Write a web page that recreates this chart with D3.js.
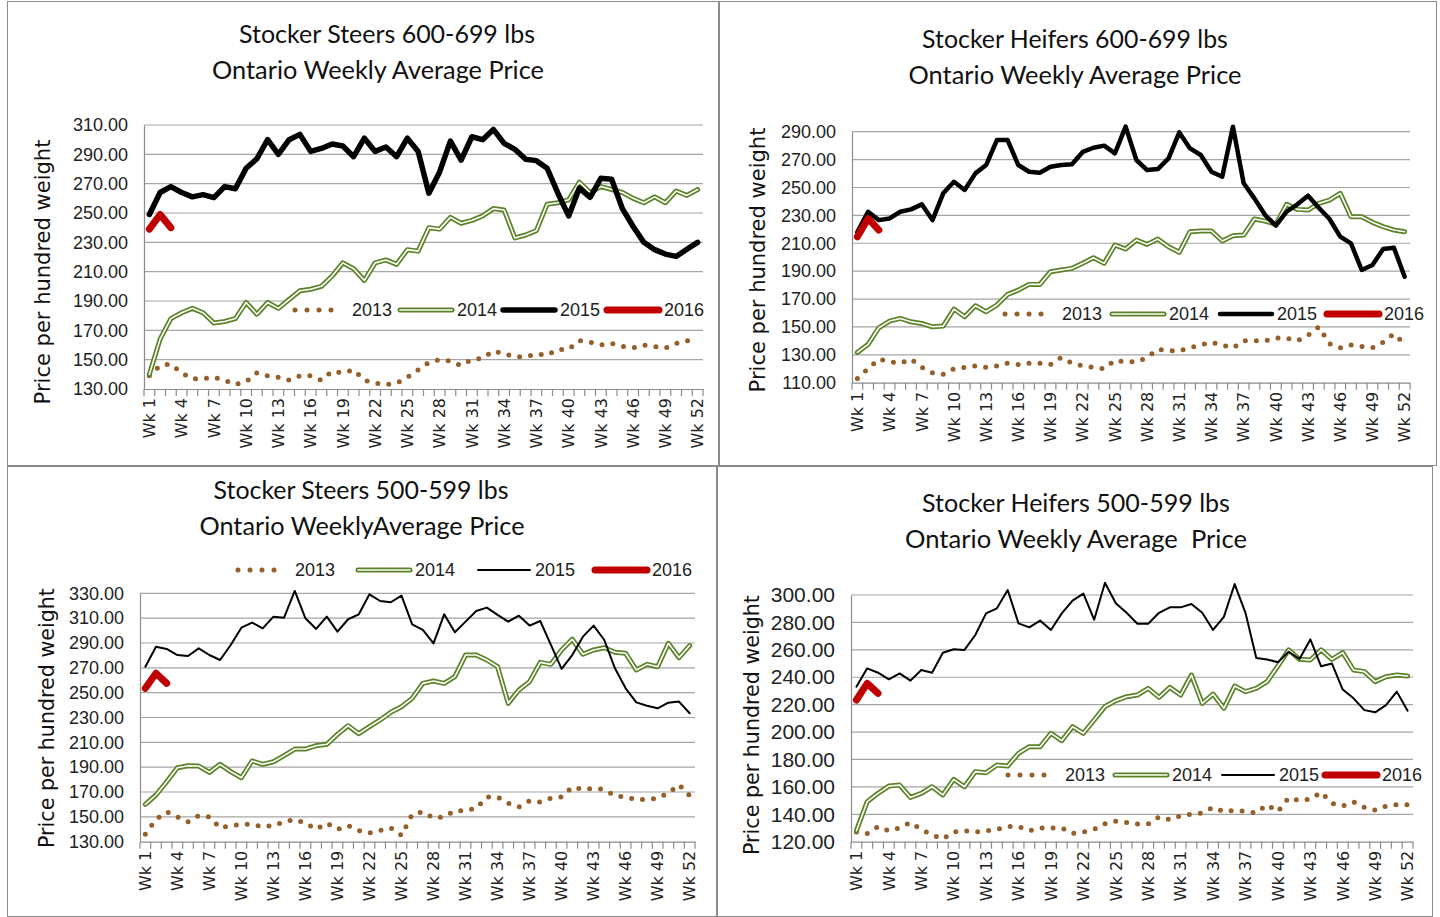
<!DOCTYPE html>
<html><head><meta charset="utf-8">
<script src="https://cdn.jsdelivr.net/npm/d3@7"></script>
<style>body{margin:0;background:#fff}svg{display:block}</style>
</head><body>
<svg id="c" width="1440" height="917"></svg>
<script>
// ---------- DATA ----------
const weeks = d3.range(1, 53).map(i => "Wk " + i);
const weekLabels = weeks.filter((w, i) => i % 3 === 0);
const seriesNames = ["2013", "2014", "2015", "2016"];

// Stocker Steers 600-699 lbs
const steers600_2013 = [139,146,147,141,137,137,138,136,133,135,141,139,138,136,139,139,136,142,141,143,136,134,133,134,138,143,148,150,149,146,150,151,156,154,152,152,154,153,157,157,163,162,160,161,159,158,160,159,158,161,163,160];
const steers600_2014 = [140,164,178,182,185,182,175,176,178,189,181,189,185,191,197,198,200,207,216,212,204,216,218,215,225,224,240,239,247,243,245,248,253,252,233,235,238,256,257,259,271,264,268,266,264,260,257,261,257,265,262,266];
const steers600_2015 = [249,264,268,264,261,262.5,260.5,268,266.5,280.5,287,300,290,300,303.6,292,294,297,295.7,288.4,301,292,295,288.4,301,292,263.5,278,299,286,302,300,307,297.5,293.4,286.6,285.7,280.5,263.5,248,267,260.7,273.7,273,253,240.8,230,225,222,220.4,225.3,230];
const steers600_2016 = [239,249,240];
const steers600Ticks = [130,150,170,190,210,230,250,270,290,310];

// Stocker Heifers 600-699 lbs
const heifers600_2013 = [113,120,127,125,124,127,121,117,116,120,121,122,121,122,124,123,124,124,123,128,124,122,121,120,126,125,125,128,134,133,133,135,137,139,137,135,140,140,140,142,142,140,144,150,138,135,137,136,135,139,145,138];
const heifers600_2014 = [131.7,137.5,149.4,154.2,156.1,153.7,152.5,150.1,150.6,162.8,157.3,165.2,160.9,165.7,173.3,176.4,180.5,180.5,189.6,190.8,192,195.6,199.6,195.6,208.7,205.9,212.3,209.2,213,207.5,203.5,218.3,218.8,218.8,211.6,215.4,215.9,227.4,225.9,223.5,237.9,234.3,233.8,238.6,241,245.8,229,229,225,221.9,219.5,218.3];
const heifers600_2015 = [218,232.6,226.6,227.8,232.6,234.3,237.9,226.6,245.8,254.1,248.2,260.1,266.1,284,284,266.1,261.3,260.6,264.9,266.1,266.6,275.5,278.5,280,274.5,293.6,269.7,262.5,263.2,270.9,289.5,278,273.3,261.3,257.7,293.6,253,242.2,230.2,222.6,232.6,237.9,244.1,235.5,227.4,214.7,209.9,190.8,194.4,205.9,206.8,186];
const heifers600_2016 = [214.7,227.8,219.5];
const heifers600Ticks = [110,130,150,170,190,210,230,250,270,290];

// Stocker Steers 500-599 lbs
const steers500_2013 = [136,148,154,150,146,151,150,141,143,144,144,142,143,146,148,145,140,145,140,143,139,137,139,141,135,152,154,149,150,155,155,157,166,166,161,158,163,162,165,166,174,172,173,172,167,166,164,164,165,169,176,167];
const steers500_2014 = [160.1,167.6,178.3,189.6,191.2,190.9,185.8,192.3,186.4,181.5,195,192.3,194.4,199.3,204.6,204.6,207.3,208.4,216.4,223.4,217,222.6,228,234.2,238.7,245.4,257.5,259.4,257.5,262.9,280.3,280.3,276.3,270.9,241.4,252.1,258.9,274.4,272.8,284.4,293,280.9,284.4,286.2,282.5,281.7,268.3,272.8,270.9,289.7,278.2,287.9];
const steers500_2015 = [270.9,287,285.2,280.3,279.5,285.7,280.3,276.3,288.4,302.3,306.4,301.8,311.2,310.4,331.9,309.9,301.3,311.2,299.1,309.1,313.1,329.2,323.8,322.8,328.1,305,300.5,289.7,313.1,298.6,307.2,315.8,318.5,312.6,307.2,312,304,307.7,288.4,269.1,280.3,295.1,304,292.4,269.6,253.5,242.2,239.5,237.4,241.9,242.8,233.4];
const steers500_2016 = [253.5,265.6,257.5];
const steers500Ticks = [130,150,170,190,210,230,250,270,290,310,330];

// Stocker Heifers 500-599 lbs
const heifers500_2013 = [127,126,131,128,130,134,129,125,122,127,128,127,128,129,131,131,128,130,130,130,126,127,129,133,135,134,133,133,138,136,139,140,141,145,142,143,142,141,147,142,152,150,151,156,148,146,149,145,143,146,147,147];
const heifers500_2014 = [128,149.2,155.3,160.6,161.3,152.3,155.3,160.1,154.1,165.5,160.1,171.1,170.3,175.9,175.2,184.5,189.3,189.3,199.1,193.7,203.9,199.1,208.8,218.6,222.9,225.8,227,231.9,225.3,232.6,227,241.6,220.9,227.7,217.3,233.6,229.5,231.9,236.8,248.2,259.9,253.1,252.6,259.9,253.1,258,245.3,244.1,236.8,240.4,241.6,240.9];
const heifers500_2015 = [233.1,246.5,243.3,238.5,242.8,237.5,245.3,243.3,257.9,260.4,259.9,270.8,286.6,290.3,303.6,279.3,276.4,281.3,274.5,286.6,295.9,301,282,309,294,287,279,279,287,291,291,293.4,287,274.5,284,308,287,254,253,251,258.6,253.3,267.6,248,250,231,224.6,216,214.4,219.7,229.5,215.6];
const heifers500_2016 = [223.4,235.5,228.2];
const heifers500Ticks = [120,140,160,180,200,220,240,260,280,300];

// ---------- LAYOUT / STYLE ----------
const GRID = "#a6a6a6", AXIS = "#8c8c8c", FRAME = "#8c8c8c";
const GREEN = "#5a8227", BROWN = "#955f2a", RED = "#c00000", BLACK = "#000";

const panels = [
  { frame:[7,1,718,465], l:144, r:703, t:125, b:389,
    series:[steers600_2013, steers600_2014, steers600_2015, steers600_2016], ticks:steers600Ticks,
    titles:["Stocker Steers 600-699 lbs","Ontario Weekly Average Price"], tx:[387,378], ty:[33,69], tw:[296,332],
    yt:[42,272,265], blackW:5.5, tickFs:18, legY:310, legX:[295,400,503,607], legBg:[288,297,417,26] },
  { frame:[719,1,1436,465], l:852, r:1410, t:131.7, b:382.7,
    series:[heifers600_2013, heifers600_2014, heifers600_2015, heifers600_2016], ticks:heifers600Ticks,
    titles:["Stocker Heifers 600-699 lbs","Ontario Weekly Average Price"], tx:[1075,1075], ty:[38,74], tw:[306,333],
    yt:[757,260,265], blackW:4.5, tickFs:18, legY:314, legX:[1005,1112,1220,1327], legBg:null },
  { frame:[7,466,716,916], l:140, r:695, t:593.3, b:841.7,
    series:[steers500_2013, steers500_2014, steers500_2015, steers500_2016], ticks:steers500Ticks,
    titles:["Stocker Steers 500-599 lbs","Ontario WeeklyAverage Price"], tx:[361,362], ty:[489,525], tw:[295,325],
    yt:[47,718,260], blackW:2, tickFs:18, legY:570, legX:[238,358,478,595], legBg:null },
  { frame:[717,466,1432,916], l:851, r:1413, t:595, b:841.7,
    series:[heifers500_2013, heifers500_2014, heifers500_2015, heifers500_2016], ticks:heifers500Ticks,
    titles:["Stocker Heifers 500-599 lbs","Ontario Weekly Average\u00A0 Price"], tx:[1076,1076], ty:[502,538], tw:[308,342],
    yt:[752,725,260], blackW:2, tickFs:21, legY:775, legX:[1008,1115,1222,1325], legBg:null }
];

const svg = d3.select("#c");

function fit(sel, target) {
  const n = sel.node();
  const fs = parseFloat(sel.attr("font-size"));
  const len = n.getComputedTextLength();
  if (len > 0) sel.attr("font-size", (fs * target / len).toFixed(2));
}

function drawSeries(g, k, path, blackW) {
  if (k === 0) {
    g.append("path").attr("d", path).attr("fill","none").attr("stroke",BROWN)
      .attr("stroke-width",5).attr("stroke-linecap","round").attr("stroke-dasharray","0 11");
  } else if (k === 1) {
    g.append("path").attr("d", path).attr("fill","none").attr("stroke",GREEN)
      .attr("stroke-width",5).attr("stroke-linejoin","round").attr("stroke-linecap","round");
    g.append("path").attr("d", path).attr("fill","none").attr("stroke","#fff")
      .attr("stroke-width",1.6).attr("stroke-linejoin","round").attr("stroke-linecap","round");
  } else if (k === 2) {
    g.append("path").attr("d", path).attr("fill","none").attr("stroke",BLACK)
      .attr("stroke-width",blackW).attr("stroke-linejoin","round").attr("stroke-linecap","round");
  } else {
    g.append("path").attr("d", path).attr("fill","none").attr("stroke",RED)
      .attr("stroke-width",7).attr("stroke-linejoin","round").attr("stroke-linecap","round");
  }
}

panels.forEach(p => {
  const g = svg.append("g");
  const f = p.frame;
  g.append("rect").attr("x",f[0]+0.5).attr("y",f[1]+0.5).attr("width",f[2]-f[0]).attr("height",f[3]-f[1])
    .attr("fill","none").attr("stroke",FRAME).attr("stroke-width",1);

  const x = d3.scaleBand().domain(weeks).range([p.l, p.r]).padding(0);
  const y = d3.scaleLinear().domain([p.ticks[0], p.ticks[p.ticks.length-1]]).range([p.b, p.t]);
  const cx = w => x(w) + x.bandwidth()/2;

  // gridlines
  g.append("g").selectAll("line").data(p.ticks.slice(1)).join("line")
    .attr("x1",p.l).attr("x2",p.r).attr("y1",d=>y(d)).attr("y2",d=>y(d))
    .attr("stroke",GRID).attr("stroke-width",1.2);

  // legend background (hides gridline, below series)
  if (p.legBg) g.append("rect").attr("x",p.legBg[0]).attr("y",p.legBg[1]).attr("width",p.legBg[2]).attr("height",p.legBg[3]).attr("fill","#fff");

  // y axis
  const ya = g.append("g").attr("transform",`translate(${p.l},0)`)
    .call(d3.axisLeft(y).tickValues(p.ticks).tickFormat(d=>d.toFixed(2)).tickSize(0).tickPadding(16));
  ya.select(".domain").attr("stroke",AXIS).attr("stroke-width",1.2);
  ya.selectAll("text").attr("font-family","'Liberation Sans', Arial, sans-serif").attr("font-size",p.tickFs).attr("fill","#222");

  // x axis with labels every 3rd week
  const xa = g.append("g").attr("transform",`translate(0,${p.b})`)
    .call(d3.axisBottom(x).tickValues(weekLabels).tickSize(0).tickSizeOuter(0));
  xa.select(".domain").attr("stroke",AXIS).attr("stroke-width",1.2);
  xa.selectAll("text").attr("transform","rotate(-90)").attr("x",-9).attr("y",0).attr("dy","0.36em")
    .attr("text-anchor","end").attr("font-family","'DejaVu Sans', Verdana, sans-serif").attr("font-size",16).attr("fill","#222");
  // category boundary tick marks
  const bounds = weeks.map(w => x(w)).concat([x(weeks[weeks.length-1]) + x.bandwidth()]);
  g.append("g").selectAll("line").data(bounds).join("line")
    .attr("x1",d=>d).attr("x2",d=>d).attr("y1",p.b).attr("y2",p.b+7)
    .attr("stroke",AXIS).attr("stroke-width",1.2);

  // series
  const line = d3.line().x((d,i)=>cx(weeks[i])).y(d=>y(d));
  p.series.forEach((s,k) => drawSeries(g, k, line(s), p.blackW));

  // titles
  p.titles.forEach((t,i) => {
    const tt = g.append("text").attr("x",p.tx[i]).attr("y",p.ty[i]).attr("text-anchor","middle")
      .attr("dominant-baseline","central").attr("font-family","Lato, 'Open Sans', sans-serif")
      .attr("font-size",26).attr("fill","#111").text(t);
    fit(tt, p.tw[i]);
  });

  // y-axis title
  const yt = g.append("text").attr("transform",`translate(${p.yt[0]},${p.yt[1]}) rotate(-90)`)
    .attr("text-anchor","middle").attr("dominant-baseline","central")
    .attr("font-family","'DejaVu Sans', Verdana, sans-serif").attr("font-size",21).attr("fill","#111")
    .text("Price per hundred weight");
  fit(yt, p.yt[2]);

  // legend
  const lg = g.append("g");
  seriesNames.forEach((name,k) => {
    const x0 = p.legX[k];
    const sample = `M${x0},${p.legY}H${x0 + (k===0?48:52)}`;
    drawSeries(lg, k, sample, p.blackW);
    if (k === 0) lg.select("path:last-child").attr("stroke-dasharray","0 12");
    lg.append("text").attr("x",x0+57).attr("y",p.legY).attr("dominant-baseline","central")
      .attr("font-family","'Liberation Sans', Arial, sans-serif").attr("font-size",18).attr("fill","#222").text(name);
  });
});
</script>
</body></html>
